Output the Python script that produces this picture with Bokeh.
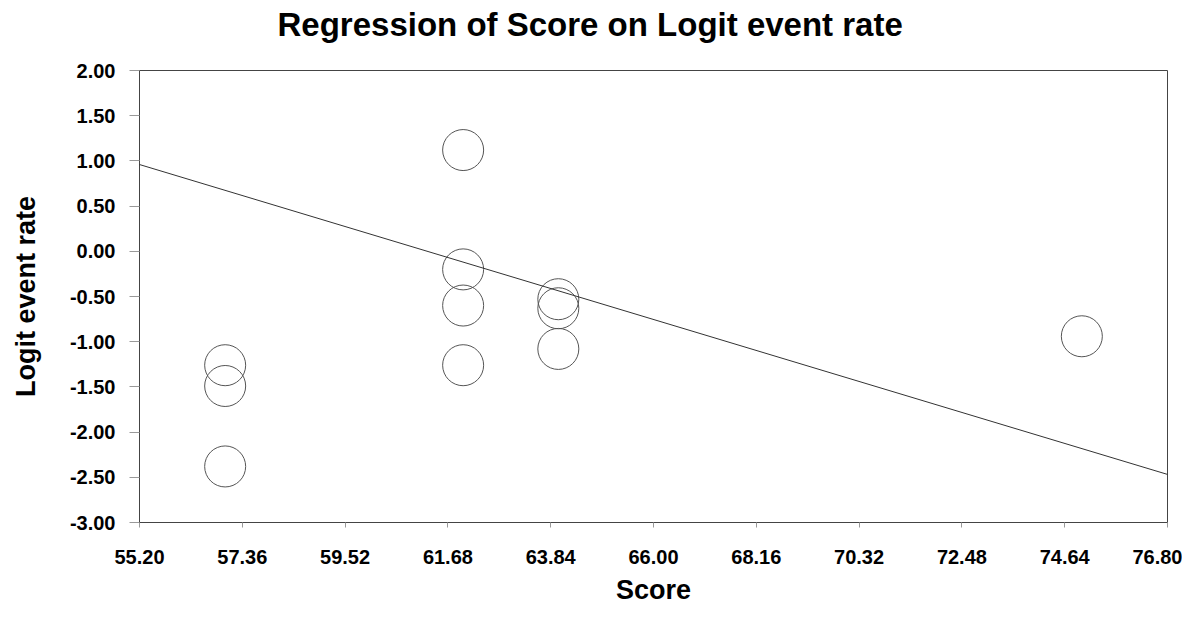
from bokeh.plotting import figure
from bokeh.models import FixedTicker, PrintfTickFormatter, Slope, ColumnDataSource
from bokeh.embed import file_html
from bokeh.resources import INLINE

# Data
score = [57.0, 57.0, 57.0, 62.0, 62.0, 62.0, 62.0, 64.0, 64.0, 64.0, 75.0]
logit = [-1.26, -1.49, -2.38, 1.12, -0.20, -0.60, -1.26, -0.53, -0.63, -1.08, -0.94]
reg_slope = -0.1587
reg_intercept = 9.72
x_ticks = [55.20, 57.36, 59.52, 61.68, 63.84, 66.00, 68.16, 70.32, 72.48, 74.64, 76.80]
y_ticks = [-3.0, -2.5, -2.0, -1.5, -1.0, -0.5, 0.0, 0.5, 1.0, 1.5, 2.0]
title_text = "Regression of Score on Logit event rate"

FONT = "Liberation Sans"

p = figure(width=1182, height=607, output_backend="svg", toolbar_location=None,
           x_range=(55.2, 76.8), y_range=(-3.0, 2.0),
           min_border_left=139, min_border_right=15, min_border_top=70, min_border_bottom=84)

p.title.text = title_text
p.title.text_font = FONT
p.title.text_font_size = "33px"
p.title.text_font_style = "bold"
p.title.text_color = "black"
p.title.align = "left"
p.title.vertical_align = "top"
p.title.offset = 138
p.title.standoff = 8
p.title.padding = dict(left=0, right=0, top=0, bottom=22)

p.xgrid.visible = False
p.ygrid.visible = False
p.outline_line_color = "#444444"
p.outline_line_width = 1
p.background_fill_color = "white"
p.border_fill_color = "white"

src = ColumnDataSource(dict(x=score, y=logit))
p.scatter("x", "y", source=src, marker="circle", size=41, fill_color=None,
          line_color="#555555", line_width=1)

p.add_layout(Slope(gradient=reg_slope, y_intercept=reg_intercept,
                   line_color="#333333", line_width=1))

for ax in (p.xaxis, p.yaxis):
    ax.axis_line_color = "#444444"
    ax.major_tick_line_color = "#999999"
    ax.minor_tick_line_color = None
    ax.major_tick_in = 0
    ax.major_label_text_font = FONT
    ax.major_label_text_font_size = "20px"
    ax.major_label_text_font_style = "bold"
    ax.major_label_text_color = "black"
    ax.axis_label_text_font = FONT
    ax.axis_label_text_font_size = "27px"
    ax.axis_label_text_font_style = "bold"
    ax.axis_label_text_color = "black"
    ax.formatter = PrintfTickFormatter(format="%.2f")

p.xaxis.ticker = FixedTicker(ticks=x_ticks)
p.yaxis.ticker = FixedTicker(ticks=y_ticks)
p.xaxis.major_tick_out = 5
p.yaxis.major_tick_out = 10
p.xaxis.major_label_standoff = 22
p.yaxis.major_label_standoff = 14
p.xaxis.axis_label = "Score"
p.yaxis.axis_label = "Logit event rate"
p.xaxis.axis_label_standoff = 8
p.yaxis.axis_label_standoff = 26

open("out.html", "w").write(file_html(p, INLINE))
